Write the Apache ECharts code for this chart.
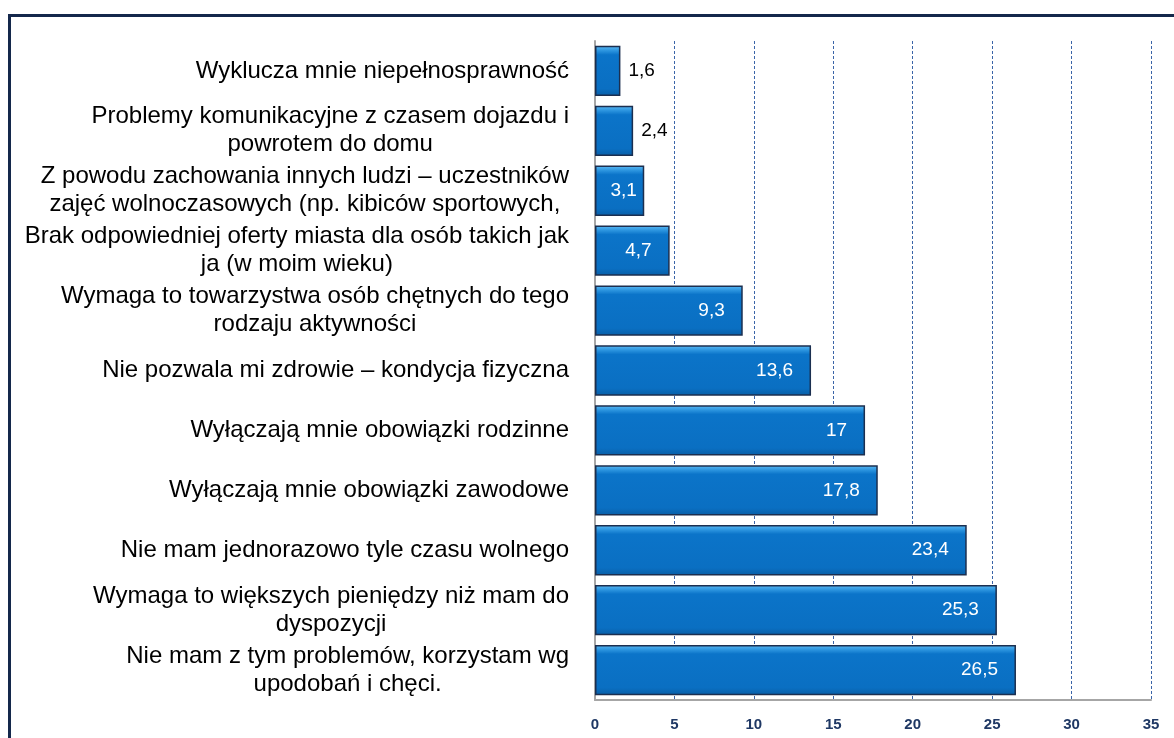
<!DOCTYPE html>
<html>
<head>
<meta charset="utf-8">
<script src="https://cdn.jsdelivr.net/npm/echarts@6/dist/echarts.min.js"></script>
<style>
  html, body { margin: 0; padding: 0; background: #ffffff; }
  #chart { width: 1174px; height: 738px; }
</style>
</head>
<body>
<div id="chart"></div>
<script>
const categories = [
  "Wyklucza mnie niepełnosprawność",
  "Problemy komunikacyjne z czasem dojazdu i\npowrotem do domu",
  "Z powodu zachowania innych ludzi – uczestników\nzajęć wolnoczasowych (np. kibiców sportowych,",
  "Brak odpowiedniej oferty miasta dla osób takich jak\nja (w moim wieku)",
  "Wymaga to towarzystwa osób chętnych do tego\nrodzaju aktywności",
  "Nie pozwala mi zdrowie – kondycja fizyczna",
  "Wyłączają mnie obowiązki rodzinne",
  "Wyłączają mnie obowiązki zawodowe",
  "Nie mam jednorazowo tyle czasu wolnego",
  "Wymaga to większych pieniędzy niż mam do\ndyspozycji",
  "Nie mam z tym problemów, korzystam wg\nupodobań i chęci."
];
const values = [1.6, 2.4, 3.1, 4.7, 9.3, 13.6, 17, 17.8, 23.4, 25.3, 26.5];
const xTicks = { min: 0, max: 35, interval: 5 };

const fmt = v => String(v).replace('.', ',');

const barData = values.map(v => {
  let label;
  if (v < 3) label = { position: 'right', color: '#000000', distance: 8 };
  else if (v < 4) label = { position: 'inside', color: '#ffffff', offset: [4, 0] };
  else label = { position: 'insideRight', color: '#ffffff', distance: 18 };
  return { value: v, label };
});

const chart = echarts.init(document.getElementById('chart'));
chart.setOption({
  animation: false,
  backgroundColor: '#ffffff',
  graphic: [{
    type: 'rect',
    left: 7, top: 13,
    shape: { width: 1200, height: 800 },
    style: { fill: 'none', stroke: '#14284B', lineWidth: 3 },
    silent: true
  }],
  grid: { left: 595, right: 23, top: 41, bottom: 38, containLabel: false },
  xAxis: {
    type: 'value',
    min: xTicks.min, max: xTicks.max, interval: xTicks.interval,
    axisLine: { show: true, lineStyle: { color: '#A6A6A6', width: 2 } },
    axisTick: { show: false },
    axisLabel: {
      margin: 17,
      fontSize: 15, fontWeight: 'bold', color: '#1F3864',
      fontFamily: 'Liberation Sans, Arial, sans-serif'
    },
    splitLine: { show: true, lineStyle: { color: '#3A64A8', width: 1, type: [3, 2] } }
  },
  yAxis: {
    type: 'category',
    inverse: true,
    data: categories,
    axisLine: { show: true, lineStyle: { color: '#A6A6A6', width: 2 } },
    axisTick: { show: false },
    axisLabel: {
      margin: 26,
      color: '#000000',
      fontFamily: 'Liberation Sans, Arial, sans-serif',
      fontSize: 24,
      lineHeight: 28,
      formatter: v => v.split('\n').map(l => '{c|' + l + '}').join('\n'),
      rich: {
        c: {
          align: 'center',
          fontSize: 24,
          lineHeight: 28,
          color: '#000000',
          fontFamily: 'Liberation Sans, Arial, sans-serif'
        }
      }
    },
    splitLine: { show: false }
  },
  series: [{
    type: 'bar',
    data: barData,
    barCategoryGap: '16%',
    itemStyle: {
      color: new echarts.graphic.LinearGradient(0, 0, 0, 1, [
        { offset: 0, color: '#5DBBF5' },
        { offset: 0.1, color: '#2A93DE' },
        { offset: 0.18, color: '#0B74C9' },
        { offset: 0.85, color: '#0A6FC2' },
        { offset: 1, color: '#085EA6' }
      ]),
      borderColor: '#1B2F50',
      borderWidth: 1.5
    },
    label: {
      show: true,
      fontSize: 19,
      fontFamily: 'Liberation Sans, Arial, sans-serif',
      formatter: p => fmt(p.value)
    }
  }]
});
</script>
</body>
</html>
